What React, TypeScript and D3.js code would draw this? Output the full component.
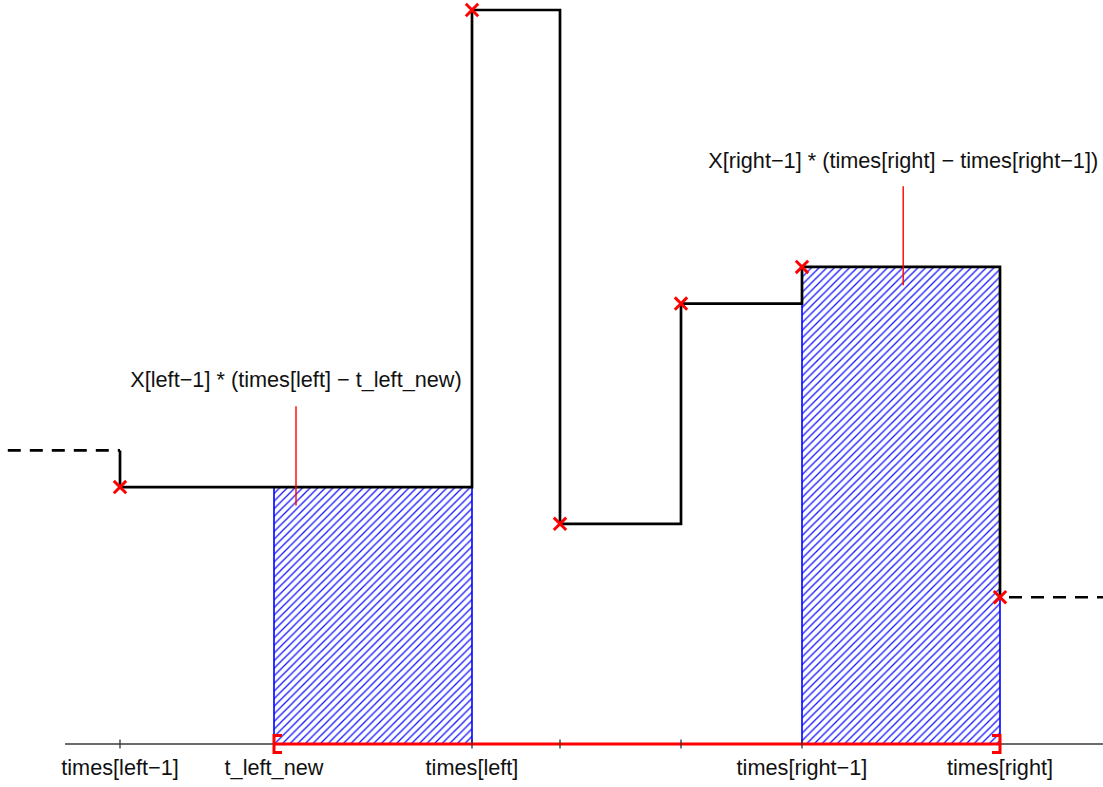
import React from "react";
import * as d3 from "d3";

// ---- data (time units / value units) ----
const stepTimes = [2.0, 10.0, 12.0, 14.75, 17.5, 22.0]; // times[left-1] .. times[right]
const stepValues = [3.5, 10.0, 3.0, 6.0, 6.5, 2.0]; // X at each time
const prevValue = 4.0; // X[left-2] (dashed)
const dashLeftStart = -0.55;
const dashRightEnd = 24.4;
const tLeftNew = 5.5;
const axisStart = 0.75;
const tickTimes = [2.0, 5.5, 10.0, 12.0, 14.75, 17.5, 22.0];
const tickLabels = ["times[left\u22121]", "t_left_new", "times[left]", "", "", "times[right\u22121]", "times[right]"];
const hatchAreas = [
  { t0: 5.5, t1: 10.0, v: 3.5 },
  { t0: 17.5, t1: 22.0, v: 6.5 },
];
const annotations = [
  { t: 6.0, text: "X[left\u22121] * (times[left] \u2212 t_left_new)", vTop: 4.6, vBot: 3.25, vText: 4.87 },
  { t: 19.8, text: "X[right\u22121] * (times[right] \u2212 times[right\u22121])", vTop: 7.6, vBot: 6.25, vText: 7.85 },
];

const W = 1103;
const H = 787;
const FONT = "'Liberation Sans', Arial, Helvetica, sans-serif";

export default function App() {
  const x = d3.scaleLinear().domain([0, 24]).range([32, 32 + 24 * 44]);
  const y = d3.scaleLinear().domain([0, 10]).range([744, 10]);

  // step path from times[left-1] to times[right]
  const pts: [number, number][] = [];
  pts.push([x(stepTimes[0]), y(prevValue)]);
  for (let i = 0; i < stepTimes.length; i++) {
    pts.push([x(stepTimes[i]), y(stepValues[i])]);
    if (i < stepTimes.length - 1) pts.push([x(stepTimes[i + 1]), y(stepValues[i])]);
  }
  const line = d3.line();
  const stepPath = line(pts) || "";

  const y0 = y(0);
  const xr0 = x(tLeftNew);
  const xr1 = x(stepTimes[stepTimes.length - 1]);

  return (
    <svg
      width={W}
      height={H}
      style={{ position: "absolute", left: 0, top: 0, background: "#fff" }}
      fontFamily={FONT}
    >
      <defs>
        <pattern id="hatch" patternUnits="userSpaceOnUse" width={7.6} height={7.6}>
          <path
            d="M-1.9,1.9 L1.9,-1.9 M0,7.6 L7.6,0 M5.7,9.5 L9.5,5.7"
            stroke="#1515ff"
            strokeWidth={1.3}
          />
        </pattern>
      </defs>
      <rect width={W} height={H} fill="#fff" />

      {/* axis */}
      <line x1={x(axisStart)} x2={W} y1={y0} y2={y0} stroke="#3a3a3a" strokeWidth={1.3} />

      {/* hatched areas */}
      {hatchAreas.map((a, i) => (
        <g key={i}>
          <rect x={x(a.t0)} y={y(a.v)} width={x(a.t1) - x(a.t0)} height={y0 - y(a.v)} fill="url(#hatch)" />
          <line x1={x(a.t0)} x2={x(a.t0)} y1={y(a.v)} y2={y0} stroke="#0000ff" strokeWidth={1.6} />
          <line x1={x(a.t1)} x2={x(a.t1)} y1={y(a.v)} y2={y0} stroke="#0000ff" strokeWidth={1.6} />
        </g>
      ))}

      {/* red bracket */}
      <g stroke="#ff0000" strokeWidth={3} fill="none">
        <line x1={xr0} x2={xr1} y1={y0} y2={y0} />
        <path d={`M${xr0 + 8},${y0 - 8.5} L${xr0},${y0 - 8.5} L${xr0},${y0 + 8.5} L${xr0 + 8},${y0 + 8.5}`} />
        <path d={`M${xr1 - 8},${y0 - 8.5} L${xr1},${y0 - 8.5} L${xr1},${y0 + 8.5} L${xr1 - 8},${y0 + 8.5}`} />
      </g>

      {/* ticks */}
      {tickTimes.map((t, i) => (
        <g key={i}>
          {i !== 1 && i !== tickTimes.length - 1 && (
            <line x1={x(t)} x2={x(t)} y1={y0 - 4.5} y2={y0 + 4.5} stroke="#333" strokeWidth={1.3} />
          )}
          {tickLabels[i] && (
            <text x={x(t)} y={775} textAnchor="middle" fontSize={21.7} fill="#111">
              {tickLabels[i]}
            </text>
          )}
        </g>
      ))}

      {/* dashed continuation */}
      <line
        x1={x(dashLeftStart)}
        x2={x(stepTimes[0])}
        y1={y(prevValue)}
        y2={y(prevValue)}
        stroke="#000"
        strokeWidth={2.6}
        strokeDasharray="13,9"
      />
      <line
        x1={x(stepTimes[stepTimes.length - 1])}
        x2={x(dashRightEnd)}
        y1={y(stepValues[stepValues.length - 1])}
        y2={y(stepValues[stepValues.length - 1])}
        stroke="#000"
        strokeWidth={2.6}
        strokeDasharray="13,9"
        strokeDashoffset={-9}
      />

      {/* step line */}
      <path d={stepPath} fill="none" stroke="#000" strokeWidth={2.7} strokeLinejoin="miter" />

      {/* markers */}
      {stepTimes.map((t, i) => {
        const cx = x(t);
        const cy = y(stepValues[i]);
        const s = 6.2;
        return (
          <path
            key={i}
            d={`M${cx - s},${cy - s} L${cx + s},${cy + s} M${cx - s},${cy + s} L${cx + s},${cy - s}`}
            stroke="#ff0000"
            strokeWidth={2.9}
          />
        );
      })}

      {/* annotations */}
      {annotations.map((a, i) => (
        <g key={i}>
          <line x1={x(a.t)} x2={x(a.t)} y1={y(a.vTop)} y2={y(a.vBot)} stroke="#ff0000" strokeWidth={1.4} />
          <text x={x(a.t)} y={y(a.vText)} textAnchor="middle" fontSize={21.7} fill="#111">
            {a.text}
          </text>
        </g>
      ))}
    </svg>
  );
}
